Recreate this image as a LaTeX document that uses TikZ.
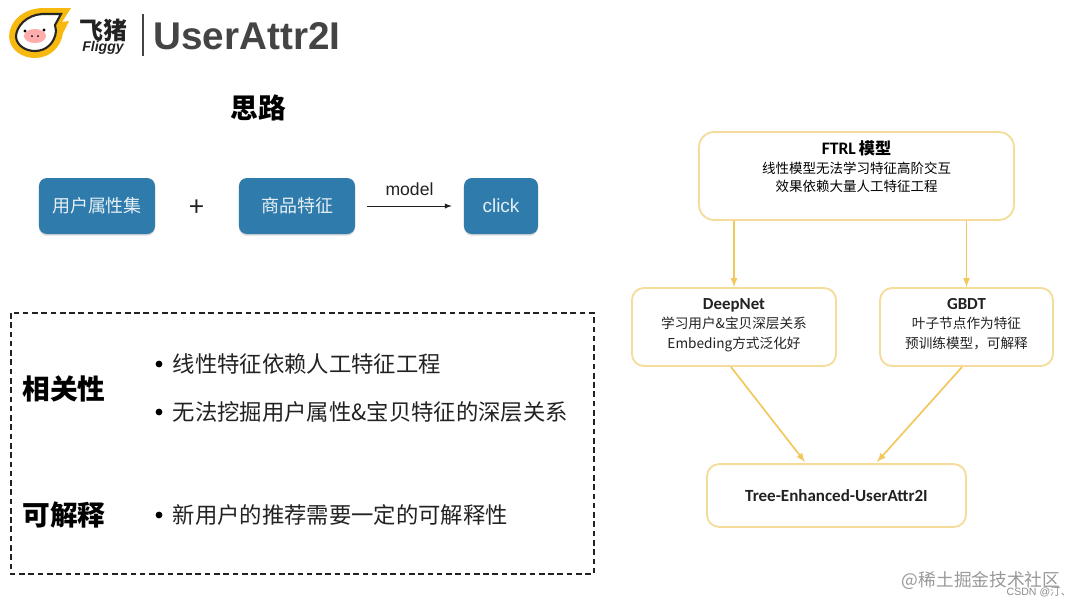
\documentclass[tikz,border=0pt]{standalone}
\usepackage{fontspec}
\setmainfont{Noto Sans CJK SC}
\newfontfamily\helvfont{Liberation Sans}
\newfontfamily\calfont{Carlito}
\usetikzlibrary{shadows}
\definecolor{boxblue}{HTML}{2E7BAC}
\definecolor{softyellow}{HTML}{F6DC9A}
\definecolor{linkyellow}{HTML}{F2C75C}
\definecolor{logoyellow}{HTML}{F7B90F}
\definecolor{titlegray}{HTML}{444444}
\definecolor{textgray}{HTML}{222222}

\begin{document}
\begin{tikzpicture}[x=0.025cm, y=-0.025cm]
	\tikzstyle{every node}=[inner sep=1pt, align=center, text=textgray]
	\tikzstyle{bluebox}=[fill=boxblue, rounded corners=0.2cm, minimum height=1.4cm, drop shadow={opacity=0.3, shadow xshift=0pt, shadow yshift=-1.2pt}, font=\fontsize{12.8}{15}\selectfont, text=white!88!boxblue]
	\tikzstyle{yellowbox}=[draw=softyellow, line width=1.3pt, fill=white, rounded corners=0.38cm]
	\tikzstyle{flowbox}=[yellowbox, rounded corners=0.3cm, font=\fontsize{9.7}{13.9}\selectfont]
	\tikzstyle{flowlink}=[draw=linkyellow, line width=1.2pt, -latex]
	\tikzstyle{heading}=[font=\fontsize{19.7}{23}\selectfont\bfseries, text=black]
	\tikzstyle{point}=[anchor=west, font=\fontsize{15.9}{19}\selectfont]
	\tikzstyle{dot}=[circle, fill=black, minimum size=0.17cm, inner sep=0pt]
	\useasboundingbox (0, 0) rectangle (1080, 608);
	\fill [white] (0, 0) rectangle (1080, 608);

	% logo
	\fill [logoyellow] (71, 8) -- (42, 8) .. controls (22, 9) and (9, 22) .. (9, 37) .. controls (10, 50) and (22, 58) .. (35, 58) .. controls (50, 58) and (61, 47) .. (63, 33) -- (69, 21) -- (62, 22) -- cycle;
	\draw [line width=1.5pt, fill=white, draw=black!85] (61, 14) -- (42, 14) .. controls (27, 15) and (16, 26) .. (16, 37) .. controls (17, 46) and (26, 51) .. (35, 51) .. controls (46, 51) and (55, 43) .. (56, 31) -- (55, 25) -- cycle;
	\fill [pink!90!red] (35, 36) ellipse (11 and 7);
	\fill [black] (25, 31) circle (1.7) (44, 30) circle (1.7) (32, 36) circle (1) (38, 36) circle (1);
	\node (feizhu) at (103, 30) {\fontsize{17}{20}\selectfont\bfseries 飞猪};
	\node (fliggy) at (103, 48) {\helvfont\fontsize{10}{12}\selectfont\bfseries\itshape Fliggy};
	\fill [titlegray] (142, 14) rectangle (144, 56);
	\node (title) at (247, 36) {\helvfont\fontsize{27.5}{30}\selectfont\bfseries\textcolor{titlegray}{UserAttr2I}};

	% left, idea
	\node [heading] (idea) at (258, 108) {思路};
	\node [bluebox, minimum width=2.9cm] (userattr) at (97, 206) {用户属性集};
	\node (plus) at (197, 208) {\fontsize{19}{22}\selectfont +};
	\node [bluebox, minimum width=2.9cm] (itemfeat) at (297, 206) {商品特征};
	\node [bluebox, minimum width=1.85cm] (click) at (501, 206) {\helvfont\fontsize{13.5}{15}\selectfont click};
	\draw [-latex, textgray, line width=0.7pt, shorten <=0.3cm, shorten >=0.3cm] (itemfeat.east) -- (click.west) node[midway, above=6pt, font=\helvfont\fontsize{12.5}{14}\selectfont] (model) {model};

	% left, dashed box
	\draw [line width=1.8pt, dash pattern=on 4pt off 2.6pt, textgray] (11, 313) rectangle (594, 574);
	\node [heading] (relevance) at (64, 389) {相关性};
	\node [heading] (explain) at (64, 515) {可解释};
	\node [dot] (dota) at (159, 364) {};
	\node [dot] (dotb) at (159, 412) {};
	\node [dot] (dotc) at (159, 515) {};
	\node [point] (pointa) at (171, 364) {线性特征依赖人工特征工程};
	\node [point] (pointb) at (171, 412) {无法挖掘用户属性\&宝贝特征的深层关系};
	\node [point] (pointc) at (171, 515) {新用户的推荐需要一定的可解释性};

	% right, flow
	\node [yellowbox, minimum width=7.87cm, minimum height=2.2cm] (ftrl) at (856.5, 176) {};
	\node [font=\fontsize{9.6}{13.2}\selectfont, text=black] (ftrltext) at (856.5, 167) {{\calfont\bfseries\fontsize{12.5}{13}\selectfont FTRL} {\bfseries\fontsize{11.5}{13}\selectfont 模型}\\线性模型无法学习特征高阶交互\\效果依赖大量人工特征工程};
	\node [flowbox, minimum width=5.1cm, minimum height=1.95cm] (deepnet) at (734, 327) {\strut{\calfont\bfseries\fontsize{12}{13}\selectfont DeepNet}\\学习用户\&宝贝深层关系\\Embeding方式泛化好\rule[-7pt]{0pt}{7pt}};
	\node [flowbox, minimum width=4.32cm, minimum height=1.95cm] (gbdt) at (966.5, 327) {\strut{\calfont\bfseries\fontsize{12}{13}\selectfont GBDT}\\叶子节点作为特征\\预训练模型，可解释\rule[-7pt]{0pt}{7pt}};
	\node [yellowbox, rounded corners=0.3cm, minimum width=6.47cm, minimum height=1.57cm] (tree) at (836.5, 495.5) {\calfont\bfseries\fontsize{12.1}{14}\selectfont Tree-Enhanced-UserAttr2I};
	\coordinate (treeleft) at (805, 462);
	\coordinate (treeright) at (877, 462);
	\coordinate (deepout) at (731, 367);
	\coordinate (gbdtout) at (962, 367);
	\draw [flowlink] (ftrl.south -| deepnet.north) -- (deepnet.north);
	\draw [flowlink] (ftrl.south -| gbdt.north) -- (gbdt.north);
	\draw [flowlink] (deepout) -- (treeleft);
	\draw [flowlink] (gbdtout) -- (treeright);

	% watermark
	\node [anchor=east, text=black!40, font=\fontsize{12.6}{14}\selectfont] (juejin) at (1062, 580) {@稀土掘金技术社区};
	\node [anchor=east, text=black!45, font=\helvfont\fontsize{7.5}{9}\selectfont] (csdn) at (1073, 592) {CSDN @{\rmfamily 汀、}};
\end{tikzpicture}
\end{document}
